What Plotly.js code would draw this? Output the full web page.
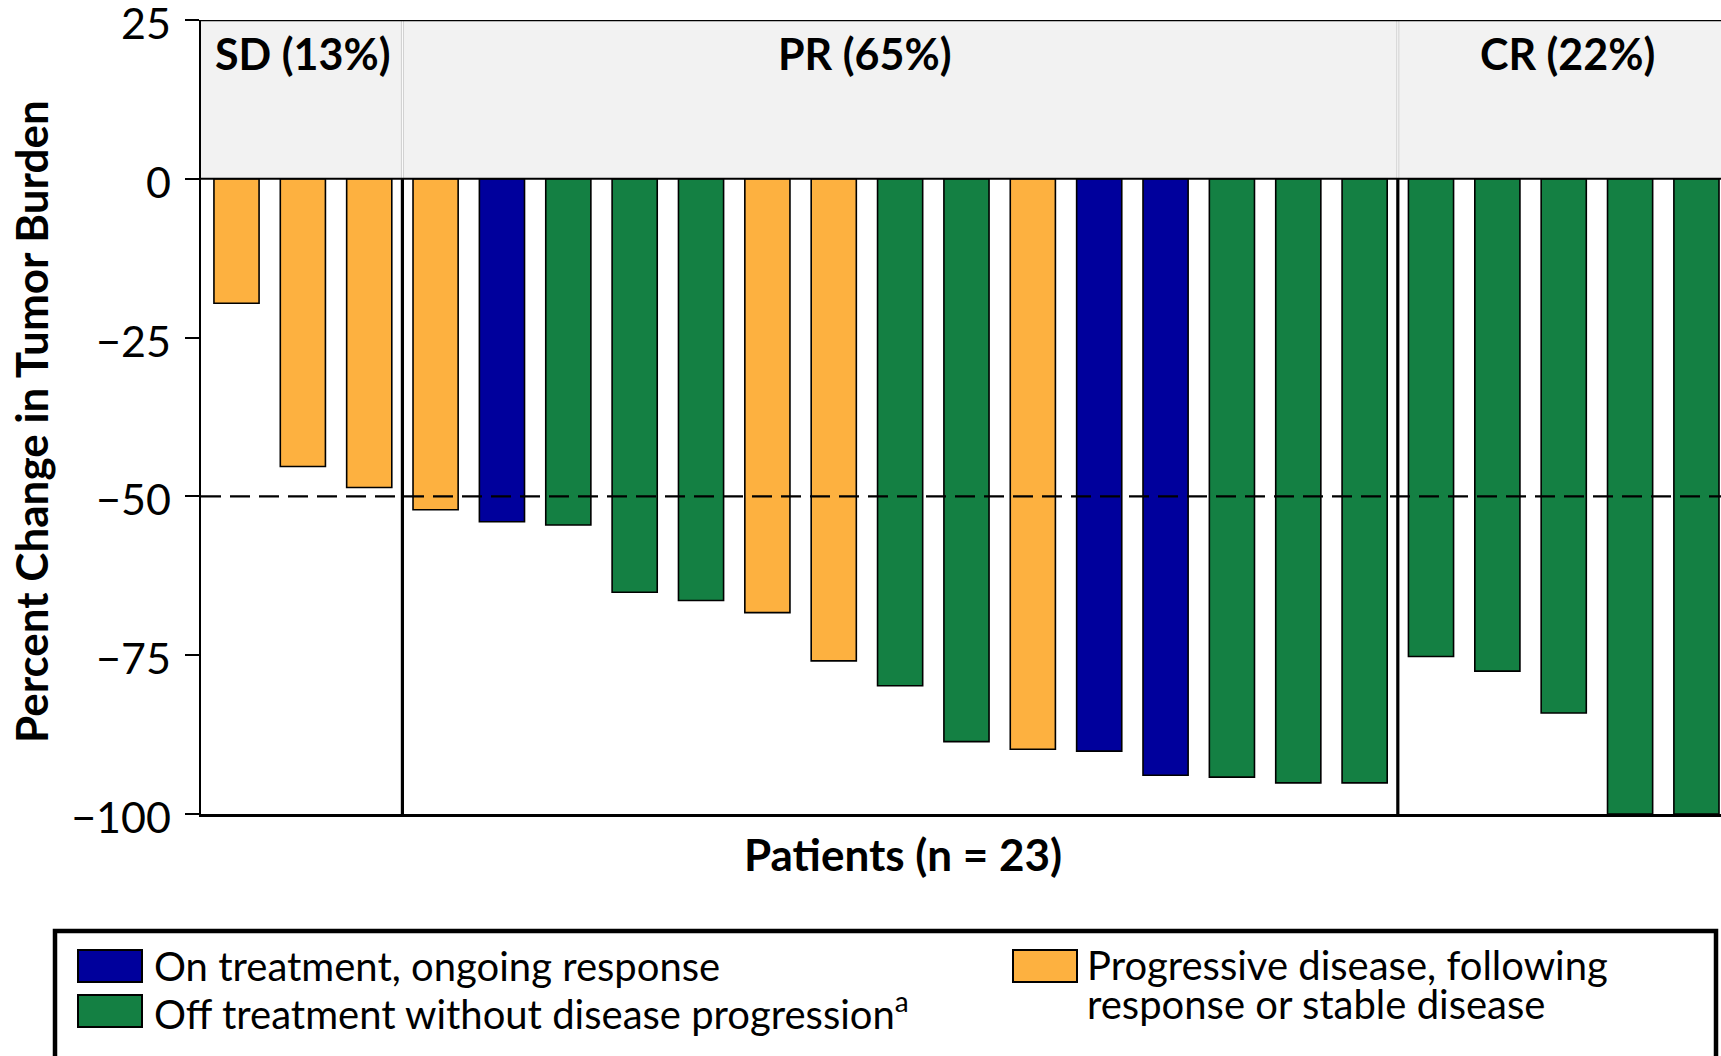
<!DOCTYPE html>
<html>
<head>
<meta charset="utf-8">
<script src="https://cdn.plot.ly/plotly-3.0.1.min.js"></script>
<style>html,body{margin:0;padding:0;background:#fff;}#chart{width:1721px;height:1056px;}</style>
</head>
<body>
<div id="chart"></div>
<script>
// ---- data ----
const patients = [1,2,3,4,5,6,7,8,9,10,11,12,13,14,15,16,17,18,19,20,21,22,23];
const change = [-19.6,-45.3,-48.6,-52.1,-54.0,-54.5,-65.1,-66.4,-68.3,-75.9,-79.8,-88.6,-89.8,-90.1,-93.9,-94.2,-95.1,-95.1,-75.2,-77.5,-84.1,-100,-100];
const status = ['PD','PD','PD','PD','ON','OFF','OFF','OFF','PD','PD','OFF','OFF','PD','ON','ON','OFF','OFF','OFF','OFF','OFF','OFF','OFF','OFF'];
const statusKeys = ['ON','OFF','PD'];
const statusColors = {ON:'#00009C', OFF:'#148043', PD:'#FDB140'};
const legendLabels = {ON:['On treatment, ongoing response'], OFF:['Off treatment without disease progression<sup>a</sup>'], PD:['Progressive disease, following','response or stable disease']};
const groupNames = ['SD (13%)','PR (65%)','CR (22%)'];
const groupBounds = [3.5, 18.5];
const yTicks = [25,0,-25,-50,-75,-100];
const threshold = -50;
const yTitle = 'Percent Change in Tumor Burden';
const xTitle = 'Patients (n = 23)';

// ---- layout helpers (pixels of a 1721x1056 page) ----
const W = 1721, H = 1056;
const L = 201, R = 1721, T = 20, B = 814;
const px = x => (x - L) / (R - L);
const py = y => (B - y) / (B - T);
const xRange = [0.465, 23.37];
const groupLabelX = [2.0, 10.46, 21.05];
const FONT = 'Lato, Carlito, "Open Sans", sans-serif';

const traces = statusKeys.map(k => {
  const xs = [], ys = [];
  patients.forEach((p, i) => { if (status[i] === k) { xs.push(p); ys.push(change[i]); } });
  return {type:'bar', x:xs, y:ys, width:0.68, showlegend:false, hoverinfo:'x+y',
    marker:{color:statusColors[k], line:{color:'#000', width:1.6}}};
});

const shapes = [];
const annotations = [];
// grey band above zero
shapes.push({type:'rect', xref:'paper', yref:'y', x0:0, x1:1, y0:0, y1:25, fillcolor:'#F2F2F2', line:{width:0}, layer:'below'});
// group dividers
groupBounds.forEach(b => {
  shapes.push({type:'line', xref:'x', yref:'y', x0:b, x1:b, y0:0, y1:25, line:{color:'#CFCFCF', width:3}});
  shapes.push({type:'line', xref:'x', yref:'y', x0:b, x1:b, y0:0, y1:25, line:{color:'#FFFFFF', width:1}});
  shapes.push({type:'line', xref:'x', yref:'y', x0:b, x1:b, y0:0, y1:-100, line:{color:'#000', width:3.2}});
});
// zero line, top border
shapes.push({type:'line', xref:'paper', yref:'y', x0:0, x1:1, y0:0, y1:0, line:{color:'#000', width:2}});
shapes.push({type:'line', xref:'paper', yref:'y', x0:0, x1:1, y0:25, y1:25, line:{color:'#000', width:2.5}});
// threshold dashed line
shapes.push({type:'line', xref:'paper', yref:'y', x0:0, x1:1, y0:threshold, y1:threshold, line:{color:'#000', width:2.2, dash:'20px,9px'}});

// group labels
groupNames.forEach((g, i) => {
  annotations.push({xref:'x', yref:'y', x:groupLabelX[i], y:19.8, text:g, showarrow:false,
    font:{family:FONT, size:43, color:'#000', weight:700}, xanchor:'center', yanchor:'middle'});
});
// axis titles
annotations.push({xref:'paper', yref:'paper', x:px(31), y:py(422), text:yTitle, textangle:-90, showarrow:false,
  font:{family:FONT, size:44, color:'#000', weight:700}, xanchor:'center', yanchor:'middle'});
annotations.push({xref:'paper', yref:'paper', x:px(903), y:py(854), text:xTitle, showarrow:false,
  font:{family:FONT, size:44, color:'#000', weight:700}, xanchor:'center', yanchor:'middle'});

// legend box
shapes.push({type:'rect', xref:'paper', yref:'paper', x0:px(55), x1:px(1716), y0:py(931), y1:py(1062), line:{color:'#000', width:4.5}, fillcolor:'rgba(0,0,0,0)'});
const legPos = {ON:{sx:78, sy:950, tx:153, ty:966}, OFF:{sx:78, sy:995, tx:153, ty:1011}, PD:{sx:1013, sy:950, tx:1086, ty:965}};
statusKeys.forEach(k => {
  const p = legPos[k];
  shapes.push({type:'rect', xref:'paper', yref:'paper', x0:px(p.sx), x1:px(p.sx+64), y0:py(p.sy), y1:py(p.sy+32),
    fillcolor:statusColors[k], line:{color:'#000', width:2}});
  legendLabels[k].forEach((line, j) => {
    annotations.push({xref:'paper', yref:'paper', x:px(p.tx), y:py(p.ty + j*39), text:line, showarrow:false,
      font:{family:FONT, size:40, color:'#000'}, xanchor:'left', yanchor:'middle', borderpad:0});
  });
});

const layout = {
  width:W, height:H, margin:{l:L, r:W-R, t:T, b:H-B},
  paper_bgcolor:'#fff', plot_bgcolor:'rgba(0,0,0,0)',
  barmode:'overlay', showlegend:false,
  xaxis:{range:xRange, showticklabels:false, ticks:'', showgrid:false, zeroline:false,
    showline:true, linecolor:'#000', linewidth:2.5, fixedrange:true},
  yaxis:{range:[-100,25], tickvals:yTicks, ticks:'outside', ticklen:14, tickwidth:2, tickcolor:'#000',
    showline:true, linecolor:'#000', linewidth:2.5, showgrid:false, zeroline:false,
    tickfont:{family:FONT, size:43, color:'#000'}, ticklabelstandoff:5, ticklabelshift:4,
    ticklabeloverflow:'allow', fixedrange:true},
  shapes:shapes, annotations:annotations
};
Plotly.newPlot('chart', traces, layout, {displayModeBar:false, staticPlot:true});
</script>
</body>
</html>
